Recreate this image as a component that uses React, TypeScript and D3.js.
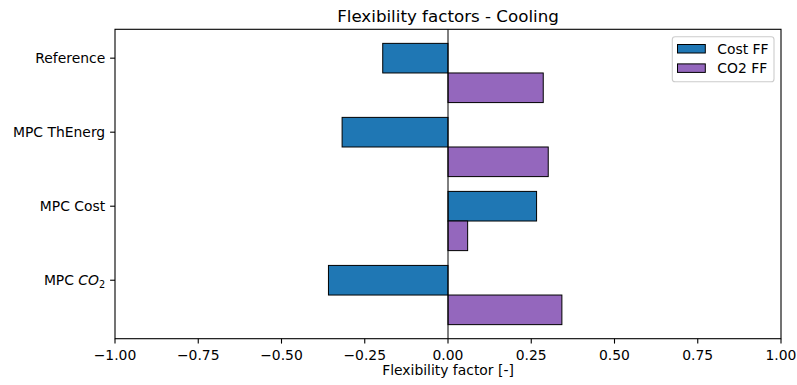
import React from "react";
import * as d3 from "d3";

// Strategy labels (top to bottom) and their flexibility factors
const categories = ["Reference", "MPC ThEnerg", "MPC Cost", "MPC CO2"];
const costFF = [-0.196, -0.318, 0.266, -0.359];
const co2FF = [0.286, 0.301, 0.059, 0.342];
const xTicks = [-1, -0.75, -0.5, -0.25, 0, 0.25, 0.5, 0.75, 1];
const seriesNames = ["Cost FF", "CO2 FF"];

const W = 797;
const H = 385;
const margin = { left: 115, right: 781, top: 29.3, bottom: 338.7 };
const barH = 0.4;
const COLORS = ["#1f77b4", "#9467bd"];
const FONT = "DejaVu Sans, sans-serif";
const FS = 13.9;

export default function App() {
  const x = d3.scaleLinear().domain([-1, 1]).range([margin.left, margin.right]);
  const yMin = -barH / 2;
  const yMax = categories.length - 1 + barH * 1.5;
  const pad = (yMax - yMin) * 0.05;
  const y = d3
    .scaleLinear()
    .domain([yMin - pad, yMax + pad])
    .range([margin.top, margin.bottom]);

  const fmt = (v: number) => d3.format(".2f")(v).replace("-", "\u2212");

  const bars: { x0: number; x1: number; y0: number; y1: number; c: string; k: string }[] = [];
  categories.forEach((_, i) => {
    const c = costFF[i];
    bars.push({
      x0: x(Math.min(0, c)),
      x1: x(Math.max(0, c)),
      y0: y(i - barH / 2),
      y1: y(i + barH / 2),
      c: COLORS[0],
      k: `c${i}`,
    });
    const e = co2FF[i];
    bars.push({
      x0: x(Math.min(0, e)),
      x1: x(Math.max(0, e)),
      y0: y(i + barH / 2),
      y1: y(i + barH * 1.5),
      c: COLORS[1],
      k: `e${i}`,
    });
  });

  const tickLen = 4.9;
  const labelX = margin.left - tickLen - 4.9;

  const yLabel = (name: string, i: number) => {
    const cy = y(i) + FS * 0.35;
    if (name === "MPC CO2") {
      return (
        <text key={name} x={labelX} y={cy} textAnchor="end" fontSize={FS} fontFamily={FONT} fill="#000">
          <tspan>MPC </tspan>
          <tspan fontStyle="italic">CO</tspan>
          <tspan fontSize={FS * 0.7} dy={3}>2</tspan>
        </text>
      );
    }
    return (
      <text key={name} x={labelX} y={cy} textAnchor="end" fontSize={FS} fontFamily={FONT} fill="#000">
        {name}
      </text>
    );
  };

  const lgX = 672.3;
  const lgY = 36.7;

  return (
    <svg
      width={W}
      height={H}
      viewBox={`0 0 ${W} ${H}`}
      style={{ position: "fixed", left: 0, top: 0, background: "#fff" }}
    >
      <rect x={0} y={0} width={W} height={H} fill="#fff" />
      {/* bars */}
      {bars.map((b) => (
        <rect
          key={b.k}
          x={b.x0}
          y={b.y0}
          width={b.x1 - b.x0}
          height={b.y1 - b.y0}
          fill={b.c}
          stroke="#000"
          strokeWidth={1}
        />
      ))}
      {/* zero line */}
      <line x1={x(0)} x2={x(0)} y1={margin.top} y2={margin.bottom} stroke="#000" strokeWidth={1} />
      {/* frame */}
      <rect
        x={margin.left}
        y={margin.top}
        width={margin.right - margin.left}
        height={margin.bottom - margin.top}
        fill="none"
        stroke="#000"
        strokeWidth={1.1}
      />
      {/* x ticks */}
      {xTicks.map((t) => (
        <g key={t}>
          <line x1={x(t)} x2={x(t)} y1={margin.bottom} y2={margin.bottom + tickLen} stroke="#000" strokeWidth={1.1} />
          <text x={x(t)} y={360} textAnchor="middle" fontSize={FS} fontFamily={FONT} fill="#000">
            {fmt(t)}
          </text>
        </g>
      ))}
      {/* y ticks */}
      {categories.map((c, i) => (
        <g key={c}>
          <line x1={margin.left - tickLen} x2={margin.left} y1={y(i)} y2={y(i)} stroke="#000" strokeWidth={1.1} />
          {yLabel(c, i)}
        </g>
      ))}
      {/* axis label */}
      <text x={(margin.left + margin.right) / 2} y={375} textAnchor="middle" fontSize={FS} fontFamily={FONT} fill="#000">
        Flexibility factor [-]
      </text>
      {/* title */}
      <text x={(margin.left + margin.right) / 2} y={21.5} textAnchor="middle" fontSize={16.7} fontFamily={FONT} fill="#000">
        Flexibility factors - Cooling
      </text>
      {/* legend */}
      <rect
        x={lgX}
        y={lgY}
        width={101.7}
        height={45}
        rx={2.8}
        fill="#fff"
        fillOpacity={0.8}
        stroke="#cccccc"
        strokeWidth={1.1}
      />
      {seriesNames.map((s, i) => (
        <g key={s}>
          <rect
            x={677.5}
            y={44.5 + i * 19.4}
            width={27.8}
            height={8.5}
            fill={COLORS[i]}
            stroke="#000"
            strokeWidth={1}
          />
          <text x={717.3} y={53.8 + i * 19.4} fontSize={FS} fontFamily={FONT} fill="#000">
            {s}
          </text>
        </g>
      ))}
    </svg>
  );
}
